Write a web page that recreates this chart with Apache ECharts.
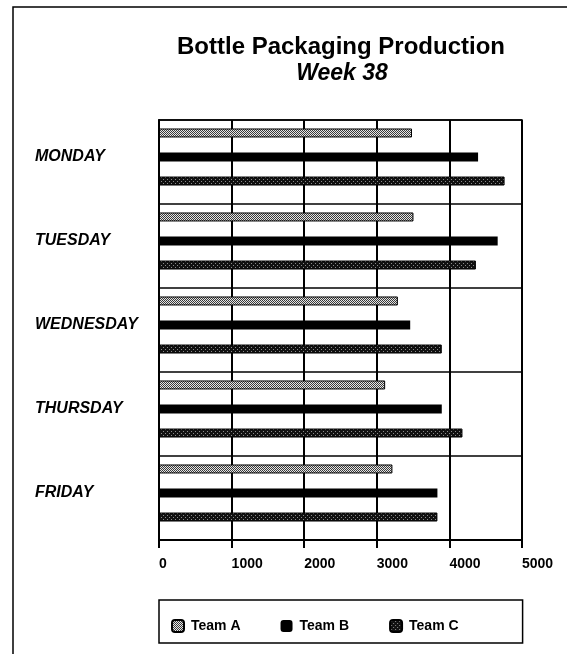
<!DOCTYPE html>
<html>
<head>
<meta charset="utf-8">
<script src="https://cdn.jsdelivr.net/npm/echarts@6/dist/echarts.min.js"></script>
<style>html,body{margin:0;padding:0;background:#fff}#c{width:567px;height:654px}</style>
</head>
<body>
<div id="c"></div>
<script>
const days = ['MONDAY', 'TUESDAY', 'WEDNESDAY', 'THURSDAY', 'FRIDAY'];
const teamA = [3485, 3505, 3290, 3115, 3215];
const teamB = [4395, 4665, 3460, 3895, 3835];
const teamC = [4760, 4365, 3895, 4180, 3835];
const xTicks = [0, 1000, 2000, 3000, 4000, 5000];
const titleText = 'Bottle Packaging Production';
const subText = 'Week 38';

function makePattern(bg, dots, fg, size) {
  const cv = document.createElement('canvas');
  cv.width = size; cv.height = size;
  const ctx = cv.getContext('2d');
  ctx.fillStyle = bg; ctx.fillRect(0, 0, size, size);
  ctx.fillStyle = fg;
  dots.forEach(d => ctx.fillRect(d[0], d[1], 1, 1));
  return { image: cv, repeat: 'repeat' };
}
const patA = makePattern('#e6e6e6', [[0,0],[2,0],[1,1],[3,1],[0,2],[2,2],[1,3],[3,3]], '#3a3a3a', 4);
const patC = makePattern('#111111', [[1,1],[3,3]], '#8a8a8a', 4);

const font = '"Liberation Sans", Arial, Helvetica, sans-serif';
const chart = echarts.init(document.getElementById('c'), null, { renderer: 'canvas' });

chart.setOption({
  animation: false,
  backgroundColor: '#fff',
  graphic: [
    { type: 'polyline', shape: { points: [[13, 654], [13, 7], [567, 7]] }, style: { stroke: '#000', lineWidth: 1.5, fill: null } },
    { type: 'text', x: 341, y: 47, style: { text: titleText, textAlign: 'center', textVerticalAlign: 'middle', font: 'bold 24px ' + font, fill: '#000' } },
    { type: 'text', x: 342, y: 74, style: { text: subText, textAlign: 'center', textVerticalAlign: 'middle', font: 'italic bold 23px ' + font, fill: '#000' } }
  ],
  legend: {
    left: 159, top: 600,
    itemWidth: 12, itemHeight: 12, itemGap: 40,
    padding: [19, 64, 10, 12],
    borderColor: '#000', borderWidth: 1.5,
    textStyle: { fontFamily: font, fontWeight: 'bold', fontSize: 14, color: '#000', padding: [0, 0, 0, 2] },
    data: ['Team A', 'Team B', 'Team C']
  },
  grid: [
    { left: 159, right: 45, top: 115, bottom: 119, containLabel: false },
    { left: 159, right: 45, top: 120, bottom: 114, containLabel: false, show: true, borderColor: '#000', borderWidth: 1.5 }
  ],
  xAxis: [
    { gridIndex: 0, type: 'value', min: 0, max: 5000, interval: 1000, show: false },
    {
      gridIndex: 1, type: 'value', min: 0, max: 5000, interval: 1000,
      axisLine: { show: true, lineStyle: { color: '#000', width: 2 } },
      axisTick: { show: true, length: 8, lineStyle: { color: '#000', width: 2 } },
      splitLine: { show: true, lineStyle: { color: '#000', width: 2 } },
      axisLabel: {
        align: 'left', margin: 17, color: '#000', fontFamily: font, fontWeight: 'bold', fontSize: 14,
        formatter: v => xTicks.indexOf(v) >= 0 ? String(v) : ''
      }
    }
  ],
  yAxis: [
    {
      gridIndex: 0, type: 'category', data: days, inverse: true,
      axisLine: { show: false }, axisTick: { show: false }, splitLine: { show: false },
      axisLabel: { align: 'left', margin: 124, color: '#000', fontFamily: font, fontWeight: 'bold', fontStyle: 'italic', fontSize: 16, padding: [0, 0, 4, 0] }
    },
    {
      gridIndex: 1, type: 'category', data: days, inverse: true,
      axisLine: { show: true, lineStyle: { color: '#000', width: 2 } }, axisTick: { show: false },
      axisLabel: { show: false },
      splitLine: { show: true, interval: 0, lineStyle: { color: '#000', width: 1.5 } }
    }
  ],
  series: [
    { name: 'Team A', type: 'bar', xAxisIndex: 0, yAxisIndex: 0, data: teamA, barWidth: 9, barGap: '167%',
      itemStyle: { color: patA, borderColor: '#000', borderWidth: 1 } },
    { name: 'Team B', type: 'bar', xAxisIndex: 0, yAxisIndex: 0, data: teamB, barWidth: 9, barGap: '167%',
      itemStyle: { color: '#000' } },
    { name: 'Team C', type: 'bar', xAxisIndex: 0, yAxisIndex: 0, data: teamC, barWidth: 9, barGap: '167%',
      itemStyle: { color: patC, borderColor: '#000', borderWidth: 1 } }
  ]
});
</script>
</body>
</html>
